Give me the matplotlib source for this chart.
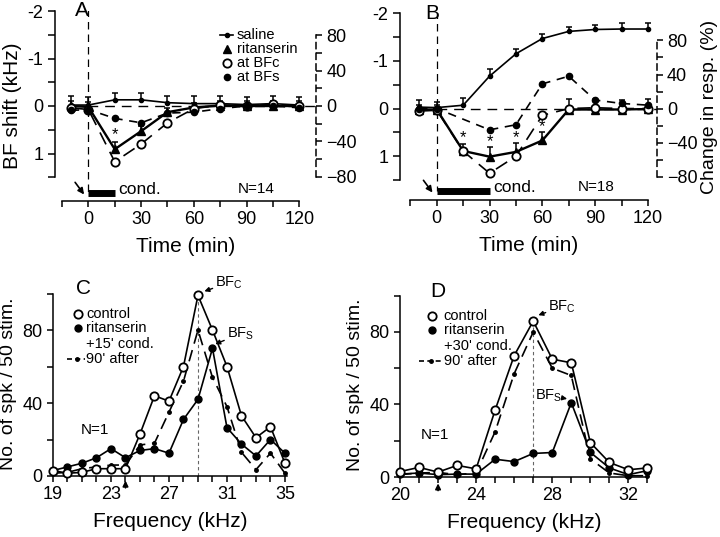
import numpy as np
import matplotlib.pyplot as plt
from matplotlib.ticker import FixedLocator

plt.rcParams['font.family'] = ['Liberation Sans', 'DejaVu Sans']
plt.rcParams['mathtext.default'] = 'regular'

# ---- panels A / B : time course ----
t = [-10, 0, 15, 30, 45, 60, 75, 90, 105, 120]

# A (15 min conditioning), BF shift in kHz
a_saline = [-0.02, -0.02, -0.13, -0.13, -0.07, -0.05, -0.05, -0.03, -0.05, -0.02]
a_saline_err = [0.2, 0.17, 0.14, 0.14, 0.15, 0.17, 0.17, 0.17, 0.17, 0.17]
a_rit = [0.0, 0.02, 0.91, 0.53, 0.13, 0.03, -0.01, 0.0, 0.0, 0.0]
a_rit_err = [0.1, 0.1, 0.15, 0.1, 0.08, 0.1, 0.1, 0.1, 0.1, 0.1]
# change in response (%)
a_bfc = [-2, -4, -63, -43, -19, -3, 1, 0, 2, 0]
a_bfs_t = [-10, 0, 15, 30, 45, 60, 75, 90, 105, 120]
a_bfs = [-5, -4, -14, -19, -8, -7, -3, 0, 0, -2]
a_star_t = [15]

# B (30 min conditioning)
b_saline = [-0.03, -0.02, -0.07, -0.68, -1.15, -1.47, -1.62, -1.66, -1.67, -1.67]
b_saline_err = [0.14, 0.12, 0.16, 0.16, 0.1, 0.1, 0.1, 0.1, 0.12, 0.12]
b_rit = [0.02, 0.02, 0.89, 1.01, 0.91, 0.67, 0.02, 0.02, 0.02, 0.01]
b_rit_err = [0.1, 0.1, 0.15, 0.21, 0.19, 0.17, 0.22, 0.2, 0.2, 0.21]
b_bfc = [-3, -2, -50, -76, -56, -8, 0, 1, 0, 0]
b_bfs_t = [-10, 0, 30, 45, 60, 75, 90, 105, 120]
b_bfs = [0, 0, -25, -19, 29, 38, 10, 6, 4]
b_star_t = [15, 30, 45, 60]

# ---- panels C / D : tuning curves ----
c_freq = list(range(19, 36))
c_control = [3, 1.5, 2, 4, 4, 4, 23, 44, 41, 60, 99, 80, 60, 33, 21, 27, 7]
c_rit = [3, 5, 7, 10, 15, 10, 14, 15, 12.5, 31, 42, 70, 26.5, 17.5, 11, 20, 12.5]
c_after = [1.5, 2, 4, 5, 6, 6, 17, 18, 35, 52, 80, 54, 38, 13, 3.5, 12.5, 1.5]

d_freq = list(range(20, 34))
d_control = [3, 5.3, 2.7, 6.4, 4.5, 37, 67, 86, 65, 63, 19, 8, 4, 5]
d_rit = [1.6, 2.2, 1.3, 1.6, 1.6, 9.8, 8.5, 13, 13.5, 41, 13.6, 5, 1.3, 3.5]
d_after = [1.3, 2.2, 2.5, 1.3, 2.2, 25, 57, 80, 60, 56, 10, 2.2, 0.7, 0.7]

TICK = 13
LAB = 15
SMALL = 10.5


def up_err(ax, x, y, e):
    top = np.array(y) - np.array(e)   # axis is inverted
    ax.vlines(x, y, top, color='k', lw=1.1, zorder=3)
    ax.plot(x, top, ls='none', marker='_', ms=5, mew=1.1, color='k', zorder=3)


def time_panel(rect, xlim, ylim, k, right_end, saline, s_err, rit, r_err,
               bfc, bfs_t, bfs, stars, star_y, cond_end, bar_y, n_text):
    ax = fig.add_axes(rect)
    ax.set_xlim(*xlim)
    ax.set_ylim(*ylim)
    for s in ['top', 'right']:
        ax.spines[s].set_visible(False)
    ax.spines['left'].set_bounds(-2, 1.5)
    ax.spines['bottom'].set_bounds(-15, 120)
    ax.set_yticks([-2, -1, 0, 1])
    ax.set_yticklabels(['-2', '-1', '0', '1'])
    ax.yaxis.set_minor_locator(FixedLocator([-1.5, -0.5, 0.5, 1.5]))
    ax.set_xticks([0, 30, 60, 90, 120])
    ax.xaxis.set_minor_locator(FixedLocator([-15, 15, 45, 75, 105]))
    ax.tick_params(axis='y', which='both', direction='out', length=5, width=1.1, labelsize=TICK)
    ax.tick_params(axis='x', which='both', direction='out', length=4, width=1.1, labelsize=TICK)
    for s in ['left', 'bottom']:
        ax.spines[s].set_linewidth(1.1)
    ax.set_xlabel('Time (min)', fontsize=LAB, labelpad=6)

    # reference lines
    ax.plot([0, 0], [-2.05, bar_y], color='k', lw=0.9, dashes=(6, 4))
    ax.plot([0, right_end], [0, 0], color='k', lw=1.0, dashes=(7, 5), zorder=1)
    ax.plot([0, cond_end], [bar_y, bar_y], color='k', lw=5, solid_capstyle='butt')
    ax.text(cond_end + 2, bar_y - 0.08, 'cond.', fontsize=12.5, va='center')
    ax.text(n_text, bar_y - 0.08, 'N=14' if cond_end == 15 else 'N=18', fontsize=11, va='center')
    ax.annotate('', xy=(-1.5, bar_y + 0.08), xytext=(-8.5, bar_y - 0.27),
                arrowprops=dict(arrowstyle='-|>', color='k', lw=1.2, mutation_scale=9))

    ax.plot(t, saline, color='k', lw=1.2, marker='o', ms=3, zorder=4)
    up_err(ax, t, saline, s_err)
    ax.plot(t, rit, color='k', lw=1.7, marker='^', ms=6, zorder=4)
    up_err(ax, t, rit, r_err)
    for st, sy in zip(stars, star_y):
        ax.text(st, sy, '*', fontsize=12, ha='center', va='center')

    ax2 = ax.twinx()
    ax2.set_position(rect)
    lo = ylim[0] * -k
    hi = ylim[1] * -k
    ax2.set_ylim(lo, hi)
    for s in ['top', 'left', 'bottom']:
        ax2.spines[s].set_visible(False)
    ax2.spines['right'].set_bounds(-80, 80)
    ax2.spines['right'].set_linestyle((0, (4, 3)))
    ax2.spines['right'].set_linewidth(1.1)
    ax2.set_yticks([-80, -40, 0, 40, 80])
    ax2.yaxis.set_minor_locator(FixedLocator([-60, -20, 20, 60]))
    ax2.tick_params(axis='y', which='both', direction='out', length=4, width=1.1, labelsize=TICK)
    ax2.plot(t, bfc, color='k', lw=1.2, dashes=(8, 5), marker='o', ms=6,
             mfc='white', mew=1.3, zorder=3)
    ax2.plot(bfs_t, bfs, color='k', lw=1.2, dashes=(5, 4), marker='o', ms=4.5, zorder=3)
    return ax, ax2


fig = plt.figure(figsize=(7.2, 5.37), dpi=100)

# panel A
axA, axA2 = time_panel([55 / 720, 336 / 537, 261 / 720, 190 / 537], (-19, 129.5), (2.0, -2.0),
                       80 / 1.49, 129.5, a_saline, a_saline_err, a_rit, a_rit_err,
                       a_bfc, a_bfs_t, a_bfs, a_star_t, [0.6], 15, 1.83, 85)
axA.set_ylabel('BF shift (kHz)', fontsize=LAB, labelpad=4)
axA.text(-7.5, -2.0, 'A', fontsize=15, va='center')
# legend A
axA.plot([75, 82.4], [-1.49, -1.49], color='k', lw=1.2)
axA.plot([78.7], [-1.49], color='k', marker='o', ms=3)
axA.plot([78.7], [-1.2], color='k', marker='^', ms=6, ls='none')
axA.plot([78.7], [-0.91], color='k', marker='o', ms=6, mfc='white', mew=1.3, ls='none')
axA.plot([78.7], [-0.61], color='k', marker='o', ms=4.5, ls='none')
for yy, lab in zip([-1.49, -1.2, -0.91, -0.61], ['saline', 'ritanserin', 'at BFc', 'at BFs']):
    axA.text(84.5, yy, lab, fontsize=SMALL, va='center')

# panel B
axB, axB2 = time_panel([400 / 720, 337 / 537, 256.7 / 720, 186.7 / 537], (-20.9, 125), (1.92, -2.0),
                       80 / 1.43, 125, b_saline, b_saline_err, b_rit, b_rit_err,
                       b_bfc, b_bfs_t, b_bfs, b_star_t, [0.6, 0.7, 0.6, 0.38], 30, 1.73, 80)
axB.text(-6.7, -2.0, 'B', fontsize=15, va='center')
fig.text(709 / 720, 1 - 107 / 537, 'Change in resp. (%)', fontsize=14, rotation=90,
         ha='center', va='center')


def tuning_panel(rect, freq, xlim, ylim, control, rit, after, xt, bf, letter, cond):
    ax = fig.add_axes(rect)
    ax.set_xlim(*xlim)
    ax.set_ylim(*ylim)
    for s in ['top', 'right']:
        ax.spines[s].set_visible(False)
    for s in ['left', 'bottom']:
        ax.spines[s].set_linewidth(1.1)
    ax.spines['left'].set_bounds(0, 100)
    ax.set_yticks([0, 40, 80])
    ax.yaxis.set_minor_locator(FixedLocator([20, 60, 100]))
    ax.set_xticks(xt)
    ax.xaxis.set_minor_locator(FixedLocator(freq))
    ax.tick_params(axis='both', which='both', direction='out', length=4, width=1.1, labelsize=TICK)
    ax.set_xlabel('Frequency (kHz)', fontsize=LAB, labelpad=6)
    ax.set_ylabel('No. of spk / 50 stim.', fontsize=LAB - 1, labelpad=4)

    ax.plot([bf, bf], [0, max(control)], color='0.4', lw=0.8, dashes=(3, 2.5), zorder=1)
    ax.plot(freq, after, color='k', lw=1.2, dashes=(7, 4), marker='o', ms=2.5, clip_on=False, zorder=3)
    ax.plot(freq, rit, color='k', lw=1.2, marker='o', ms=5, clip_on=False, zorder=4)
    ax.plot(freq, control, color='k', lw=1.2, marker='o', ms=6, mfc='white', mew=1.3,
            clip_on=False, zorder=5)

    x0 = xlim[0]
    ax.text(x0 + 1.6, 102.5, letter, fontsize=15, va='center', ha='left')
    ax.plot([x0 + 1.7], [89], color='k', marker='o', ms=6, mfc='white', mew=1.3, ls='none')
    ax.plot([x0 + 1.7], [81], color='k', marker='o', ms=5, ls='none')
    ax.plot([x0 + 1.0, x0 + 2.2], [64, 64], color='k', lw=1.2, dashes=(3, 2))
    ax.plot([x0 + 1.65], [64], color='k', marker='o', ms=2.5)
    ax.text(x0 + 2.3, 89, 'control', fontsize=SMALL, va='center')
    ax.text(x0 + 2.3, 81, 'ritanserin', fontsize=SMALL, va='center')
    ax.text(x0 + 2.3, 72.5, cond, fontsize=SMALL, va='center')
    ax.text(x0 + 2.3, 64, "90' after", fontsize=SMALL, va='center')
    return ax


axC = tuning_panel([53 / 720, 61 / 537, 234 / 720, 185 / 537], c_freq, (19, 35.14), (0, 101.4),
                   c_control, c_rit, c_after, [19, 23, 27, 31, 35], 29, 'C', "+15' cond.")
axC.text(20.9, 25, 'N=1', fontsize=11, va='center')
axC.annotate('', xy=(24, -1), xytext=(24, -8), annotation_clip=False,
             arrowprops=dict(arrowstyle='-|>', color='k', lw=1.2, mutation_scale=8))
axC.annotate('BF$_C$', xy=(29.35, 101), xytext=(30.2, 106), fontsize=SMALL, va='center',
             annotation_clip=False,
             arrowprops=dict(arrowstyle='-|>', color='k', lw=1.0, mutation_scale=7, shrinkA=0, shrinkB=1))
axC.annotate('BF$_S$', xy=(30.1, 72), xytext=(31.0, 78), fontsize=SMALL, va='center',
             arrowprops=dict(arrowstyle='-|>', color='k', lw=1.0, mutation_scale=7, shrinkA=0, shrinkB=1))

axD = tuning_panel([400 / 720, 60 / 537, 248 / 720, 184 / 537], d_freq, (20, 33.03), (0, 101.5),
                   d_control, d_rit, d_after, [20, 24, 28, 32], 27, 'D', "+30' cond.")
axD.text(21.1, 23, 'N=1', fontsize=11, va='center')
axD.annotate('', xy=(22, -2), xytext=(22, -9), annotation_clip=False,
             arrowprops=dict(arrowstyle='-|>', color='k', lw=1.2, mutation_scale=8))
axD.annotate('BF$_C$', xy=(27.2, 89), xytext=(27.8, 94), fontsize=SMALL, va='center',
             arrowprops=dict(arrowstyle='-|>', color='k', lw=1.0, mutation_scale=7, shrinkA=0, shrinkB=1))
axD.annotate('BF$_S$', xy=(28.85, 43), xytext=(27.1, 45), fontsize=SMALL, va='center',
             arrowprops=dict(arrowstyle='-|>', color='k', lw=1.0, mutation_scale=7, shrinkA=0, shrinkB=1))

fig.savefig('out.png', dpi=100)
